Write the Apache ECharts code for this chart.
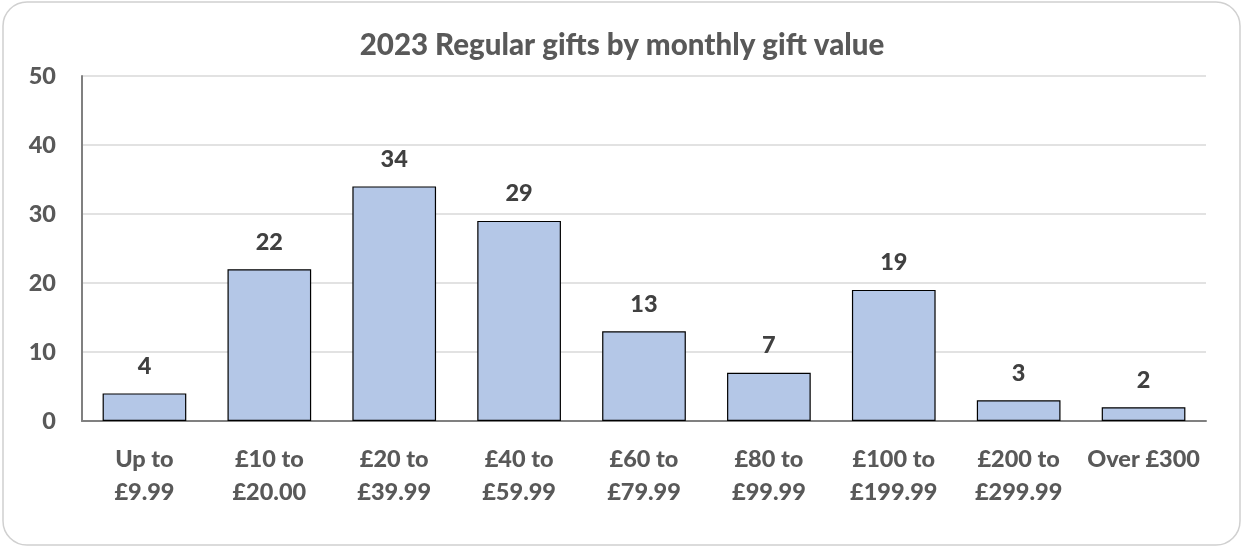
<!DOCTYPE html>
<html>
<head>
<meta charset="utf-8">
<script src="https://cdn.jsdelivr.net/npm/echarts@6/dist/echarts.min.js"></script>
<style>
html,body{margin:0;padding:0;background:#fff;}
#chart{width:1244px;height:548px;}
</style>
</head>
<body>
<div id="chart"></div>
<script>
const categories = ["Up to\n£9.99", "£10 to\n£20.00", "£20 to\n£39.99", "£40 to\n£59.99", "£60 to\n£79.99", "£80 to\n£99.99", "£100 to\n£199.99", "£200 to\n£299.99", "Over £300"];
const values = [4, 22, 34, 29, 13, 7, 19, 3, 2];
const titleText = "2023 Regular gifts by monthly gift value";

const FONT = "Lato, 'Open Sans', sans-serif";
const chart = echarts.init(document.getElementById('chart'), null, {renderer: 'canvas'});
chart.setOption({
  animation: false,
  backgroundColor: '#ffffff',
  graphic: [{
    type: 'rect',
    shape: {x: 3, y: 2, width: 1237, height: 543, r: 24},
    style: {fill: 'none', stroke: '#d0d0d0', lineWidth: 1.5},
    z: -10
  }],
  title: {
    text: titleText,
    left: 'center',
    top: 25,
    textStyle: {fontFamily: FONT, fontWeight: 900, fontSize: 29.5, color: '#595959'}
  },
  grid: {left: 82, right: 38, top: 76, bottom: 127, containLabel: false},
  xAxis: {
    type: 'category',
    data: categories,
    axisLine: {lineStyle: {color: '#808080', width: 2}},
    axisTick: {show: false},
    axisLabel: {
      interval: 0,
      margin: 22,
      fontFamily: FONT, fontWeight: 900, fontSize: 23.5, color: '#595959',
      lineHeight: 33
    }
  },
  yAxis: {
    type: 'value',
    min: 0, max: 50, interval: 10,
    axisLine: {show: true, lineStyle: {color: '#808080', width: 2}},
    axisTick: {show: false},
    splitLine: {lineStyle: {color: '#d9d9d9', width: 1.5}},
    axisLabel: {margin: 26, fontFamily: FONT, fontWeight: 900, fontSize: 23.5, color: '#595959'}
  },
  series: [{
    type: 'bar',
    data: values,
    barCategoryGap: '33%',
    itemStyle: {color: '#b4c7e7', borderColor: '#000000', borderWidth: 1.2},
    label: {
      show: true,
      position: 'top',
      distance: 15,
      fontFamily: FONT, fontWeight: 900, fontSize: 23.5, color: '#404040'
    }
  }]
});
</script>
</body>
</html>
